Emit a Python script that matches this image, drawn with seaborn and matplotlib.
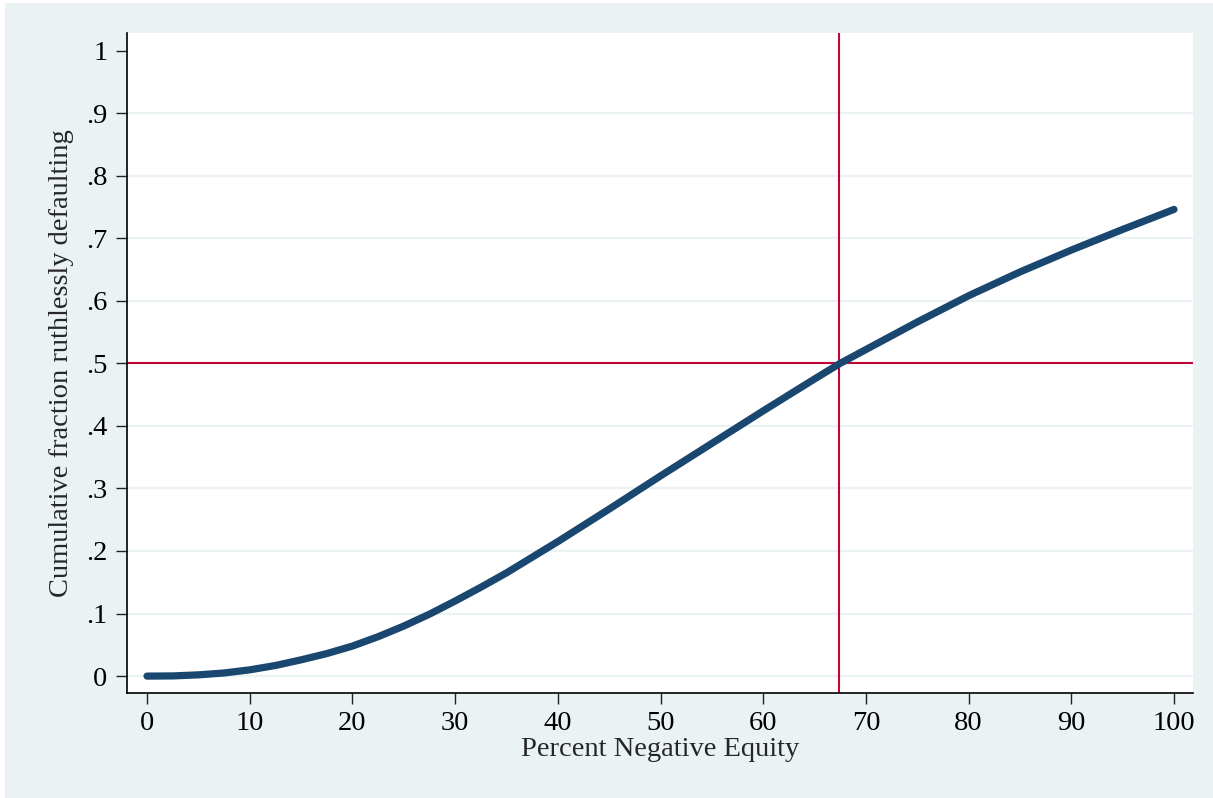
import matplotlib
matplotlib.use("Agg")
import matplotlib.pyplot as plt
from matplotlib.patches import Rectangle
import seaborn as sns
import pandas as pd

# Data
neg_equity = [0, 2.5, 5, 7.5, 10, 12.5, 15, 17.5, 20, 22.5, 25, 27.5, 30, 32.5,
              35, 37.5, 40, 45, 50, 55, 60, 65, 67.5, 70, 75, 80, 85, 90, 95, 100]
cum_fraction = [0.000, 0.0003, 0.002, 0.005, 0.010, 0.017, 0.026, 0.036, 0.048,
                0.063, 0.080, 0.099, 0.120, 0.142, 0.165, 0.190, 0.215, 0.267,
                0.320, 0.372, 0.424, 0.475, 0.500, 0.522, 0.566, 0.608, 0.646,
                0.681, 0.714, 0.746]
median_x = 67.4
median_y = 0.5
x_ticks = [0, 10, 20, 30, 40, 50, 60, 70, 80, 90, 100]
y_ticks = [0, 0.1, 0.2, 0.3, 0.4, 0.5, 0.6, 0.7, 0.8, 0.9, 1.0]
y_ticklabels = ["0", ".1", ".2", ".3", ".4", ".5", ".6", ".7", ".8", ".9", "1"]
x_title = "Percent Negative Equity"
y_title = "Cumulative fraction ruthlessly defaulting"

BG = "#EAF2F3"
NAVY = "#1A476F"
RED = "#C10534"

sns.set_style("white")
plt.rcParams["font.family"] = ["Liberation Serif", "DejaVu Serif"]

df = pd.DataFrame({"x": neg_equity, "y": cum_fraction})

fig = plt.figure(figsize=(12.13, 7.98), dpi=100, facecolor="white")
fig.patches.append(Rectangle((5 / 1213, 0), 1 - 5 / 1213, 1 - 3 / 798,
                             transform=fig.transFigure, facecolor=BG,
                             edgecolor="none", zorder=-10))
ax = fig.add_axes([127 / 1213, 1 - 693 / 798, (1193 - 127) / 1213, (693 - 33) / 798])
ax.set_facecolor("white")

for yv in y_ticks[:-1]:
    ax.axhline(yv, color=BG, lw=1.6, zorder=0)

sns.lineplot(data=df, x="x", y="y", ax=ax, color=NAVY, linewidth=5.2,
             solid_capstyle="round", solid_joinstyle="round", zorder=3)

ax.axvline(median_x, color=RED, lw=1.5, zorder=2)
ax.axhline(median_y, color=RED, lw=1.5, zorder=2)

ax.set_xlim(-1.95, 101.85)
ax.set_ylim(-0.027, 1.028)
ax.set_xticks(x_ticks)
ax.set_xticklabels([str(t) for t in x_ticks])
ax.set_yticks(y_ticks)
ax.set_yticklabels(y_ticklabels)

ax.tick_params(axis="both", which="major", direction="out", length=8, width=1.0,
               color="#222222", labelsize=20.5, labelcolor="black", left=True, bottom=True)
ax.tick_params(axis="y", pad=6)
ax.tick_params(axis="x", pad=5)

for side in ["top", "right"]:
    ax.spines[side].set_visible(False)
for side in ["left", "bottom"]:
    ax.spines[side].set_color("black")
    ax.spines[side].set_linewidth(1.2)

ax.set_xlabel(x_title, fontsize=20.5, labelpad=1)
ax.set_ylabel(y_title, fontsize=20.5, labelpad=9)

fig.savefig("out.png", dpi=100, facecolor=fig.get_facecolor())
